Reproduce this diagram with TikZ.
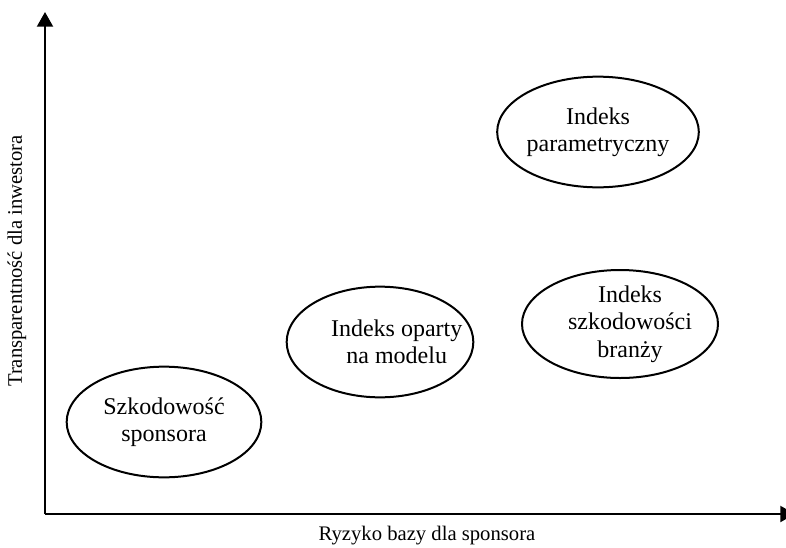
\documentclass[tikz,border=0pt]{standalone}
\usepackage{fontspec}
\setmainfont{Liberation Serif}
\usetikzlibrary{arrows.meta,shapes.geometric}

\begin{document}
\begin{tikzpicture}[
  x=0.75pt, y=-0.75pt,
  >={Triangle[length=11pt, width=12pt]},
  ax/.style={->, line width=1.5pt},
  ov/.style={draw, ellipse, line width=1.5pt, inner sep=0pt, align=center,
    font=\fontsize{18}{20.5}\selectfont},
  txt/.style={align=center, font=\fontsize{18}{20.5}\selectfont},
  lab/.style={font=\fontsize{15.5}{18}\selectfont}
]
\useasboundingbox (0,0) rectangle (786,547);

\coordinate (o) at (45,514);
\coordinate (ytop) at (45,12);
\coordinate (xend) at (795,514);

\node[ov, minimum width=150pt, minimum height=83pt] (param) at (598,132) {Indeks\\parametryczny};
\node[ov, minimum width=147pt, minimum height=81pt,
  label={[txt, xshift=7.5pt]center:Indeks\\szkodowości\\branży}] (branza) at (620,324) {};
\node[ov, minimum width=140pt, minimum height=83pt,
  label={[txt, xshift=12.5pt]center:Indeks oparty\\na modelu}] (model) at (380,342) {};
\node[ov, minimum width=146pt, minimum height=83pt] (sponsor) at (164,422) {Szkodowość\\sponsora};

\draw[ax] (o) -- (ytop);
\draw[ax] (o) -- (xend);

\node[lab] (xlab) at (427,536) {Ryzyko bazy dla sponsora};
\node[lab, rotate=90] (ylab) at (17,261) {Transparentność dla inwestora};
\end{tikzpicture}
\end{document}
